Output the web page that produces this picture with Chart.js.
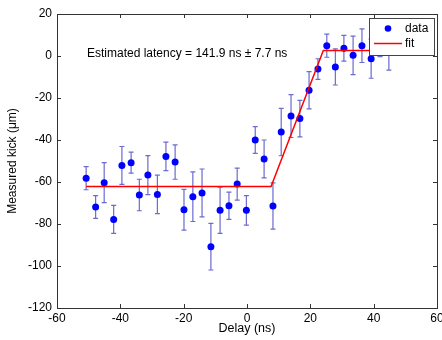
<!DOCTYPE html>
<html>
<head>
<meta charset="utf-8">
<script src="https://cdn.jsdelivr.net/npm/chart.js@4"></script>
<style>
html,body{margin:0;padding:0;background:#fff;}
#wrap{width:442px;height:340px;}
</style>
</head>
<body>
<div id="wrap"><canvas id="c" width="442" height="340"></canvas></div>
<script>
const delays = [-50.8,-47.8,-45.1,-42.1,-39.5,-36.6,-34.0,-31.3,-28.3,-25.6,-22.7,-19.9,-17.1,-14.2,-11.4,-8.5,-5.7,-3.1,-0.2,2.6,5.4,8.2,10.8,13.9,16.7,19.6,22.4,25.2,27.9,30.6,33.5,36.3,39.2,42.0,44.8];
const kicks = [-58.2,-71.9,-60.3,-77.8,-52.1,-50.8,-66.2,-56.7,-65.9,-47.8,-50.5,-73.2,-67.0,-65.2,-90.8,-73.5,-71.3,-61.0,-73.5,-40.0,-49.0,-71.4,-36.2,-28.6,-29.8,-16.3,-6.2,4.9,-5.2,3.7,0.3,4.9,-1.3,5.0,2.5];
const kickErr = [5.5,5.4,9.5,6.7,9.0,5.0,7.5,9.3,9.2,6.8,8.2,9.7,11.8,11.4,11.1,11.0,6.5,7.6,7.0,6.4,9.0,11.0,11.3,10.2,8.7,8.9,4.9,5.5,8.6,6.1,9.2,8.0,9.3,5.3,9.2];
const fitX = [-50.8,7.6,24.1,44.8];
const fitY = [-62.2,-62.2,2.6,2.6];
const xTicks = [-60,-40,-20,0,20,40,60];
const yTicks = [20,0,-20,-40,-60,-80,-100,-120];
const annotation = 'Estimated latency = 141.9 ns \u00b1 7.7 ns';
const legendLabels = ['data','fit'];

const FONT = '"Liberation Sans", Arial, sans-serif';

const errorBars = {
  id:'errorBars',
  beforeDatasetsDraw(chart){
    const ctx = chart.ctx, xs = chart.scales.x, ys = chart.scales.y;
    ctx.save();
    ctx.strokeStyle = '#6b6bd0';
    ctx.lineWidth = 1.2;
    for(let i=0;i<delays.length;i++){
      const px = xs.getPixelForValue(delays[i]);
      const pt = ys.getPixelForValue(kicks[i]+kickErr[i]);
      const pb = ys.getPixelForValue(kicks[i]-kickErr[i]);
      ctx.beginPath();
      ctx.moveTo(px,pt);ctx.lineTo(px,pb);
      ctx.moveTo(px-2.5,pt);ctx.lineTo(px+2.5,pt);
      ctx.moveTo(px-2.5,pb);ctx.lineTo(px+2.5,pb);
      ctx.stroke();
    }
    ctx.restore();
  }
};

const frame = {
  id:'frame',
  afterDatasetsDraw(chart){
    const ctx = chart.ctx, a = chart.chartArea, xs = chart.scales.x, ys = chart.scales.y;
    ctx.save();
    ctx.fillStyle = '#000';
    ctx.font = '12px ' + FONT;
    ctx.textBaseline = 'alphabetic';
    ctx.textAlign = 'left';
    ctx.fillText(annotation, 87, 57);
    ctx.strokeStyle = '#333';
    ctx.lineWidth = 1;
    ctx.strokeRect(Math.round(a.left)+0.5, Math.round(a.top)+0.5, Math.round(a.right-a.left), Math.round(a.bottom-a.top));
    const tl = 4;
    ctx.beginPath();
    xTicks.forEach(v=>{
      const p = Math.round(xs.getPixelForValue(v))+0.5;
      ctx.moveTo(p,a.bottom);ctx.lineTo(p,a.bottom-tl);
      ctx.moveTo(p,a.top);ctx.lineTo(p,a.top+tl);
    });
    yTicks.forEach(v=>{
      const p = Math.round(ys.getPixelForValue(v))+0.5;
      ctx.moveTo(a.left,p);ctx.lineTo(a.left+tl,p);
      ctx.moveTo(a.right,p);ctx.lineTo(a.right-tl,p);
    });
    ctx.stroke();
    const lx=369.5, ly=18.5, lw=65, lh=37;
    ctx.fillStyle='#fff';
    ctx.fillRect(lx,ly,lw,lh);
    ctx.strokeStyle='#444';
    ctx.strokeRect(lx,ly,lw,lh);
    ctx.fillStyle='#0000ff';
    ctx.beginPath();ctx.arc(388,28.5,3.3,0,Math.PI*2);ctx.fill();
    ctx.strokeStyle='#ff0000';ctx.lineWidth=1.5;
    ctx.beginPath();ctx.moveTo(374,43.5);ctx.lineTo(402,43.5);ctx.stroke();
    ctx.fillStyle='#000';
    ctx.font='12px '+FONT;
    ctx.textBaseline='middle';
    ctx.fillText(legendLabels[0],405,29);
    ctx.fillText(legendLabels[1],405,44);
    ctx.restore();
  }
};

new Chart(document.getElementById('c'),{
  type:'scatter',
  data:{
    datasets:[
      {
        label:legendLabels[1],
        data:fitX.map((x,i)=>({x:x,y:fitY[i]})),
        showLine:true,
        borderColor:'#ff0000',
        borderWidth:1.5,
        pointRadius:0,
        fill:false,
        order:0
      },
      {
        label:legendLabels[0],
        data:delays.map((x,i)=>({x:x,y:kicks[i]})),
        backgroundColor:'#0000ff',
        borderWidth:0,
        pointRadius:3.5,
        order:1
      }
    ]
  },
  options:{
    responsive:false,
    animation:false,
    devicePixelRatio:1,
    layout:{padding:{left:0,top:14,right:5,bottom:0}},
    plugins:{legend:{display:false},tooltip:{enabled:false}},
    scales:{
      x:{
        type:'linear',min:-60,max:60,
        afterBuildTicks(s){s.ticks = xTicks.map(v=>({value:v}));},
        afterFit(s){s.height=32;s.paddingLeft=0;s.paddingRight=0;},
        grid:{display:false,drawTicks:false},
        border:{display:false},
        ticks:{color:'#000',font:{family:FONT,size:12},padding:3,maxRotation:0,autoSkip:false},
        title:{display:true,text:'Delay (ns)',color:'#000',font:{family:FONT,size:12.5},padding:{top:0,bottom:4}}
      },
      y:{
        type:'linear',min:-120,max:20,
        afterBuildTicks(s){s.ticks = yTicks.map(v=>({value:v}));},
        afterFit(s){s.width=57;s.paddingTop=0;s.paddingBottom=0;},
        grid:{display:false,drawTicks:false},
        border:{display:false},
        ticks:{color:'#000',font:{family:FONT,size:12},padding:5,autoSkip:false},
        title:{display:true,text:'Measured kick (\u03bcm)',color:'#000',font:{family:FONT,size:12},padding:{top:5,bottom:0}}
      }
    }
  },
  plugins:[errorBars,frame]
});
</script>
</body>
</html>
